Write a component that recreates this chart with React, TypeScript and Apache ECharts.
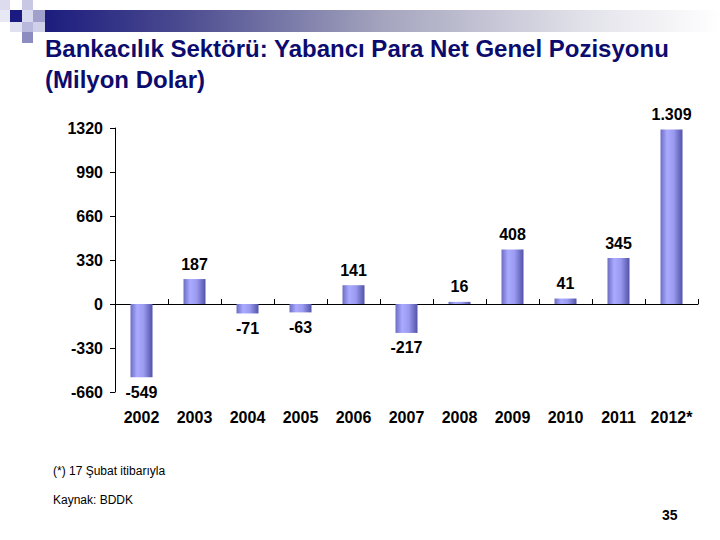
import React, { useEffect, useRef } from "react";
import * as echarts from "echarts";

const categories = ["2002", "2003", "2004", "2005", "2006", "2007", "2008", "2009", "2010", "2011", "2012*"];
const values = [-549, 187, -71, -63, 141, -217, 16, 408, 41, 345, 1309];
const yMin = -660;
const yMax = 1320;
const yInterval = 330;

const titleLines = ["Bankacılık Sektörü: Yabancı Para Net Genel Pozisyonu", "(Milyon Dolar)"];
const footNote = "(*) 17 Şubat itibarıyla";
const sourceNote = "Kaynak: BDDK";
const pageNumber = "35";

const fmt = (v: number) => {
  const s = Math.abs(v).toString().replace(/\B(?=(\d{3})+(?!\d))/g, ".");
  return (v < 0 ? "-" : "") + s;
};

export default function App() {
  const ref = useRef<HTMLDivElement>(null);
  useEffect(() => {
    if (!ref.current) return;
    const chart = echarts.init(ref.current, undefined, { renderer: "svg" });
    const font = "Arial, 'Liberation Sans', sans-serif";
    const barColor = new echarts.graphic.LinearGradient(0, 0, 1, 0, [
      { offset: 0, color: "#6c6cc4" },
      { offset: 0.3, color: "#aaaaff" },
      { offset: 0.6, color: "#9a9af0" },
      { offset: 1, color: "#5252a8" },
    ]);
    const squares: [number, number, number, number, string][] = [
      [0, 0, 10, 10, "#dcdcee"],
      [22, 0, 11, 10, "#c8c8e4"],
      [0, 10, 10, 12, "#e8e8f4"],
      [10, 10, 12, 12, "#1a1a80"],
      [22, 10, 11, 12, "#d8d8ee"],
      [33, 10, 12, 12, "#a0a0cc"],
      [10, 22, 12, 10, "#e0e0f0"],
      [22, 22, 11, 10, "#b8b8dc"],
      [33, 22, 12, 10, "#d0d0e8"],
      [22, 32, 11, 11, "#8c8cc0"],
    ];
    chart.setOption({
      animation: false,
      backgroundColor: "#ffffff",
      grid: { left: 115, right: 22, top: 128, bottom: 148, containLabel: false },
      xAxis: [
        {
          type: "category",
          data: categories,
          position: "bottom",
          axisLine: { show: false, onZero: false },
          axisTick: { show: false },
          axisLabel: {
            color: "#000",
            fontWeight: "bold",
            fontSize: 16,
            fontFamily: font,
            margin: 17,
            interval: 0,
            hideOverlap: false,
          },
        },
        {
          type: "category",
          data: categories,
          position: "bottom",
          axisLine: { show: true, onZero: true, lineStyle: { color: "#000", width: 1 } },
          axisTick: { show: true, inside: true, length: 5, interval: 0, lineStyle: { color: "#000" } },
          axisLabel: { show: false },
        },
      ],
      yAxis: {
        type: "value",
        min: yMin,
        max: yMax,
        interval: yInterval,
        axisLine: { show: true, lineStyle: { color: "#000", width: 1 } },
        axisTick: { show: true, length: 5, lineStyle: { color: "#000" } },
        splitLine: { show: false },
        axisLabel: {
          color: "#000",
          fontWeight: "bold",
          fontSize: 16,
          fontFamily: font,
          margin: 12,
          formatter: (v: number) => String(v),
        },
      },
      series: [
        {
          type: "bar",
          xAxisIndex: 0,
          barWidth: 22,
          data: values.map((v) => ({
            value: v,
            label: { position: v >= 0 ? "top" : "bottom" },
          })),
          itemStyle: { color: barColor },
          label: {
            show: true,
            distance: 7,
            color: "#000",
            fontWeight: "bold",
            fontSize: 16,
            fontFamily: font,
            formatter: (p: any) => fmt(p.value),
          },
        },
      ],
      graphic: [
        {
          type: "rect",
          shape: { x: 45, y: 10, width: 675, height: 22 },
          style: {
            fill: new echarts.graphic.LinearGradient(0, 0, 1, 0, [
              { offset: 0, color: "#1c1c7e" },
              { offset: 0.2, color: "#4a4a90" },
              { offset: 0.5, color: "#a4a4be" },
              { offset: 0.8, color: "#e2e2ea" },
              { offset: 1, color: "#ffffff" },
            ]),
          },
        },
        ...squares.map(([x, y, w, h, c]) => ({
          type: "rect",
          shape: { x, y, width: w, height: h },
          style: { fill: c },
        })),
        ...titleLines.map((t, i) => ({
          type: "text",
          left: 45,
          top: 36 + i * 31,
          style: { text: t, fill: "#0c0c6e", font: `bold 24px ${font}` },
        })),
        {
          type: "text",
          left: 53,
          top: 465,
          style: { text: footNote, fill: "#000", font: `12px ${font}` },
        },
        {
          type: "text",
          left: 53,
          top: 494,
          style: { text: sourceNote, fill: "#000", font: `12px ${font}` },
        },
        {
          type: "text",
          left: 662,
          top: 508,
          style: { text: pageNumber, fill: "#000", font: `bold 14px ${font}` },
        },
      ],
    });
    return () => chart.dispose();
  }, []);
  return <div ref={ref} style={{ position: "fixed", left: 0, top: 0, width: 720, height: 540 }} />;
}
